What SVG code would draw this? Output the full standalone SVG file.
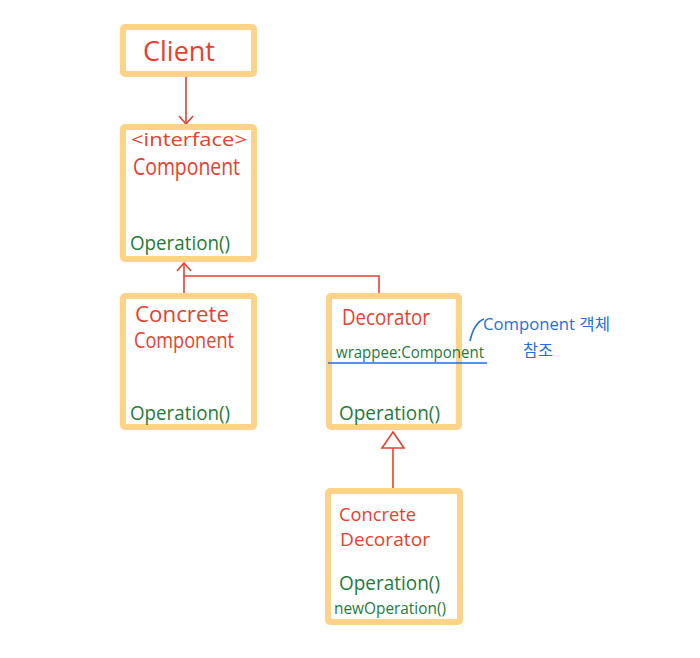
<svg xmlns="http://www.w3.org/2000/svg" width="700" height="658" viewBox="0 0 700 658">
<style>
.box{fill:#fff;stroke:#FDD38A;stroke-width:6;stroke-linejoin:round}
.t{font-family:"Open Sans","Liberation Sans",sans-serif;fill:#E8402F}
.g{font-family:"Open Sans","Liberation Sans",sans-serif;fill:#1E7B3A}
.b{font-family:"Open Sans","Noto Sans CJK KR",sans-serif;fill:#1F6FE0}
.line{fill:none;stroke:#E8402F;stroke-width:1.6}
</style>
<rect width="700" height="658" fill="#fff"/>
<g id="connectors">
<path class="line" d="M186 77 V124"/>
<path class="line" d="M179 116 L186 124 L193 116"/>
<path class="line" d="M184 293 V276 H379 V293"/>
<path class="line" d="M184 263 V276"/>
<path class="line" d="M177 271 L184 263 L191 271"/>
<path class="line" d="M393 448 V491"/>
<path class="line" d="M393 432 L382 448 H404 Z"/>
</g>
<g id="client">
<rect class="box" x="123" y="27" width="131" height="47" rx="2"/>
<text class="t" x="143" y="61" font-size="28" textLength="72" lengthAdjust="spacingAndGlyphs">Client</text>
</g>
<g id="component">
<rect class="box" x="123" y="127" width="131" height="132" rx="2"/>
<text class="t" x="131" y="146" font-size="19" textLength="116" lengthAdjust="spacingAndGlyphs">&lt;interface&gt;</text>
<text class="t" x="133" y="175" font-size="23" textLength="107" lengthAdjust="spacingAndGlyphs">Component</text>
<text class="g" x="130" y="250" font-size="20" textLength="100" lengthAdjust="spacingAndGlyphs">Operation()</text>
</g>
<g id="concrete-component">
<rect class="box" x="123" y="296" width="131" height="131" rx="2"/>
<text class="t" x="135" y="322" font-size="21" textLength="94" lengthAdjust="spacingAndGlyphs">Concrete</text>
<text class="t" x="134" y="348" font-size="21" textLength="100" lengthAdjust="spacingAndGlyphs">Component</text>
<text class="g" x="130" y="420" font-size="20" textLength="100" lengthAdjust="spacingAndGlyphs">Operation()</text>
</g>
<g id="decorator">
<rect class="box" x="329" y="296" width="130" height="131" rx="2"/>
<text class="t" x="342" y="325" font-size="21" textLength="88" lengthAdjust="spacingAndGlyphs">Decorator</text>
<text class="g" x="336" y="358" font-size="17" textLength="148" lengthAdjust="spacingAndGlyphs">wrappee:Component</text>
<text class="g" x="339" y="420" font-size="20" textLength="101" lengthAdjust="spacingAndGlyphs">Operation()</text>
</g>
<g id="note">
<path d="M328 363 H487" fill="none" stroke="#1F6FE0" stroke-width="1.6"/>
<path d="M470 341 C472 332 476 322 484 319" fill="none" stroke="#1F6FE0" stroke-width="1.6"/>
<text class="b" x="483" y="330" font-size="16" textLength="127" lengthAdjust="spacingAndGlyphs">Component 객체</text>
<text class="b" x="523" y="356" font-size="16" textLength="30" lengthAdjust="spacingAndGlyphs">참조</text>
</g>
<g id="concrete-decorator">
<rect class="box" x="328" y="491" width="132" height="131" rx="2"/>
<text class="t" x="339" y="521" font-size="19" textLength="77" lengthAdjust="spacingAndGlyphs">Concrete</text>
<text class="t" x="340" y="546" font-size="19" textLength="90" lengthAdjust="spacingAndGlyphs">Decorator</text>
<text class="g" x="339" y="590" font-size="20" textLength="101" lengthAdjust="spacingAndGlyphs">Operation()</text>
<text class="g" x="334" y="614" font-size="16" textLength="112" lengthAdjust="spacingAndGlyphs">newOperation()</text>
</g>
</svg>
